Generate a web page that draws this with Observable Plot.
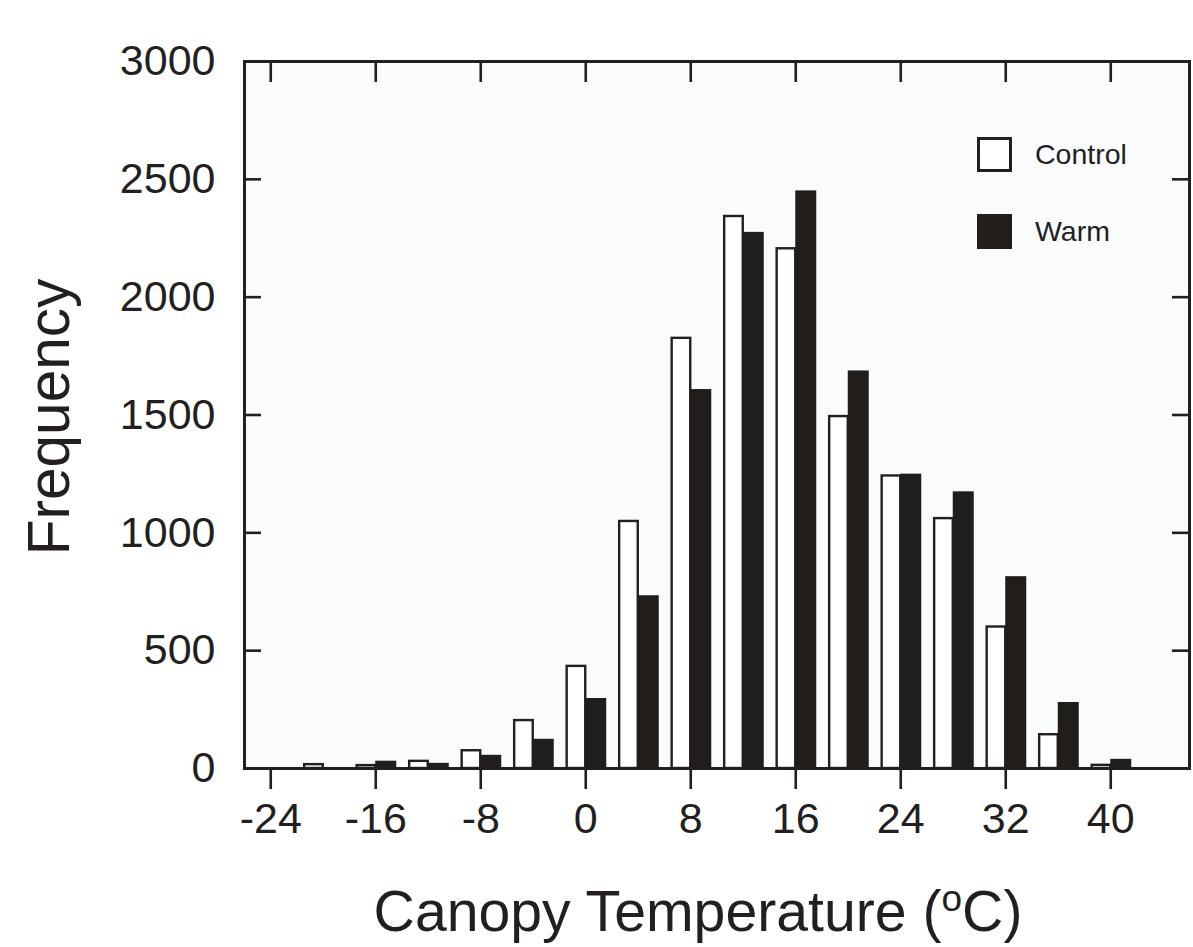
<!DOCTYPE html>
<html>
<head>
<meta charset="utf-8">
<script src="https://cdn.jsdelivr.net/npm/d3@7"></script>
<script src="https://cdn.jsdelivr.net/npm/@observablehq/plot@0.6"></script>
<style>
  html, body { margin: 0; padding: 0; background: #ffffff; }
  #chart {
    position: relative;
    width: 1193px;
    height: 947px;
    font-family: "Liberation Sans", Arial, Helvetica, sans-serif;
    color: #231f20;
  }
  .legend { position: absolute; left: 977px; top: 137px; }
  .legend .item { display: flex; align-items: center; height: 35px; margin-bottom: 42px; }
  .legend .swatch { width: 35px; height: 35px; box-sizing: border-box; }
  .legend .label { margin-left: 23px; font-size: 28.5px; line-height: 1; }
</style>
</head>
<body>
<div id="chart"></div>
<script>
// Bin centres of canopy temperature (°C), 4-degree bins
const bins = [-20, -16, -12, -8, -4, 0, 4, 8, 12, 16, 20, 24, 28, 32, 36, 40];
// Frequency of observations in each bin
const control = [21, 17, 35, 80, 208, 438, 1053, 1830, 2347, 2210, 1498, 1246, 1065, 605, 148, 18];
const warm    = [0, 31, 22, 56, 124, 297, 733, 1608, 2275, 2451, 1687, 1249, 1174, 814, 280, 39];
const seriesNames = ["Control", "Warm"];

// Axis ticks and titles
const xTicks = [-24, -16, -8, 0, 8, 16, 24, 32, 40];
const yTicks = [0, 500, 1000, 1500, 2000, 2500, 3000];
const xTitle = "Canopy Temperature (oC)";
const yTitle = "Frequency";

const ink = "#231f20";
const warmFill = "#211d1a";
const panelFill = "#f9fbfd";

const W = 1193, H = 947;
const mL = 244, mR = 4, mT = 61, mB = 179;
const plotW = W - mL - mR, plotH = H - mT - mB;

// Each bin holds a pair of bars: control left of the centre, warm right of it
const controlWidth = 1.5, warmWidth = 1.6;
const table = bins.map((b, i) => ({bin: b, control: control[i], warm: warm[i]}));

const innerY = yTicks.filter(v => v > 0 && v < 3000);

const plot = Plot.plot({
  width: W,
  height: H,
  marginLeft: mL,
  marginRight: mR,
  marginTop: mT,
  marginBottom: mB,
  style: {
    fontFamily: '"Liberation Sans", Arial, Helvetica, sans-serif',
    fontSize: "43px",
    color: ink,
    background: "#ffffff"
  },
  x: {domain: [-26, 46]},
  y: {domain: [0, 3000]},
  marks: [
    Plot.frame({fill: panelFill, stroke: "none"}),
    Plot.rectY(table, {
      x1: d => d.bin - controlWidth,
      x2: d => d.bin,
      y1: 0,
      y2: "control",
      fill: "#ffffff",
      stroke: ink,
      strokeWidth: 2.4,
      insetLeft: 1.1,
      insetRight: 0,
      insetTop: 1.1
    }),
    Plot.rectY(table.filter(d => d.warm > 0), {
      x1: "bin",
      x2: d => d.bin + warmWidth,
      y1: 0,
      y2: "warm",
      fill: warmFill
    }),
    // inward ticks on the top, left and right edges
    Plot.tickX(xTicks, {x: d => d, insetBottom: plotH - 21, stroke: ink, strokeWidth: 2.6}),
    Plot.tickY(innerY, {y: d => d, insetRight: plotW - 17, stroke: ink, strokeWidth: 2.6}),
    Plot.tickY(innerY, {y: d => d, insetLeft: plotW - 17, stroke: ink, strokeWidth: 2.6}),
    Plot.axisX({
      ticks: xTicks,
      tickFormat: d => String(d),
      tickSize: 21,
      tickPadding: 13,
      strokeWidth: 2.6,
      stroke: ink,
      fontSize: 43,
      label: null
    }),
    Plot.axisY({
      ticks: yTicks,
      tickFormat: d => String(d),
      tickSize: 0,
      tickPadding: 29,
      fontSize: 43,
      label: null
    }),
    Plot.frame({stroke: ink, strokeWidth: 3}),
    Plot.text([yTitle], {
      frameAnchor: "left",
      rotate: -90,
      dx: -194,
      dy: 2,
      fontSize: 58.5,
      textAnchor: "middle",
      lineAnchor: "middle",
      fill: ink
    }),
    Plot.text([xTitle], {
      frameAnchor: "bottom",
      lineAnchor: "bottom",
      textAnchor: "middle",
      dx: -19,
      dy: 162,
      fontSize: 57.2,
      fill: ink
    })
  ]
});

// Raise the "o" of the degree sign in the x title as a superscript
plot.querySelectorAll("text").forEach(t => {
  if (t.textContent === xTitle) {
    const ns = "http://www.w3.org/2000/svg";
    t.textContent = "";
    const a = document.createElementNS(ns, "tspan");
    a.textContent = "Canopy Temperature (";
    const s = document.createElementNS(ns, "tspan");
    s.textContent = "o";
    s.setAttribute("font-size", "37");
    s.setAttribute("dy", "-20");
    const c = document.createElementNS(ns, "tspan");
    c.textContent = "C)";
    c.setAttribute("dy", "20");
    t.append(a, s, c);
  }
});

const chart = document.getElementById("chart");
chart.appendChild(plot);

// Legend inside the panel
const legend = document.createElement("div");
legend.className = "legend";
seriesNames.forEach((name, i) => {
  const item = document.createElement("div");
  item.className = "item";
  const sw = document.createElement("div");
  sw.className = "swatch";
  if (i === 0) {
    sw.style.background = "#ffffff";
    sw.style.border = `3px solid ${ink}`;
  } else {
    sw.style.background = warmFill;
  }
  const lab = document.createElement("span");
  lab.className = "label";
  lab.textContent = name;
  item.append(sw, lab);
  legend.appendChild(item);
});
chart.appendChild(legend);
</script>
</body>
</html>
